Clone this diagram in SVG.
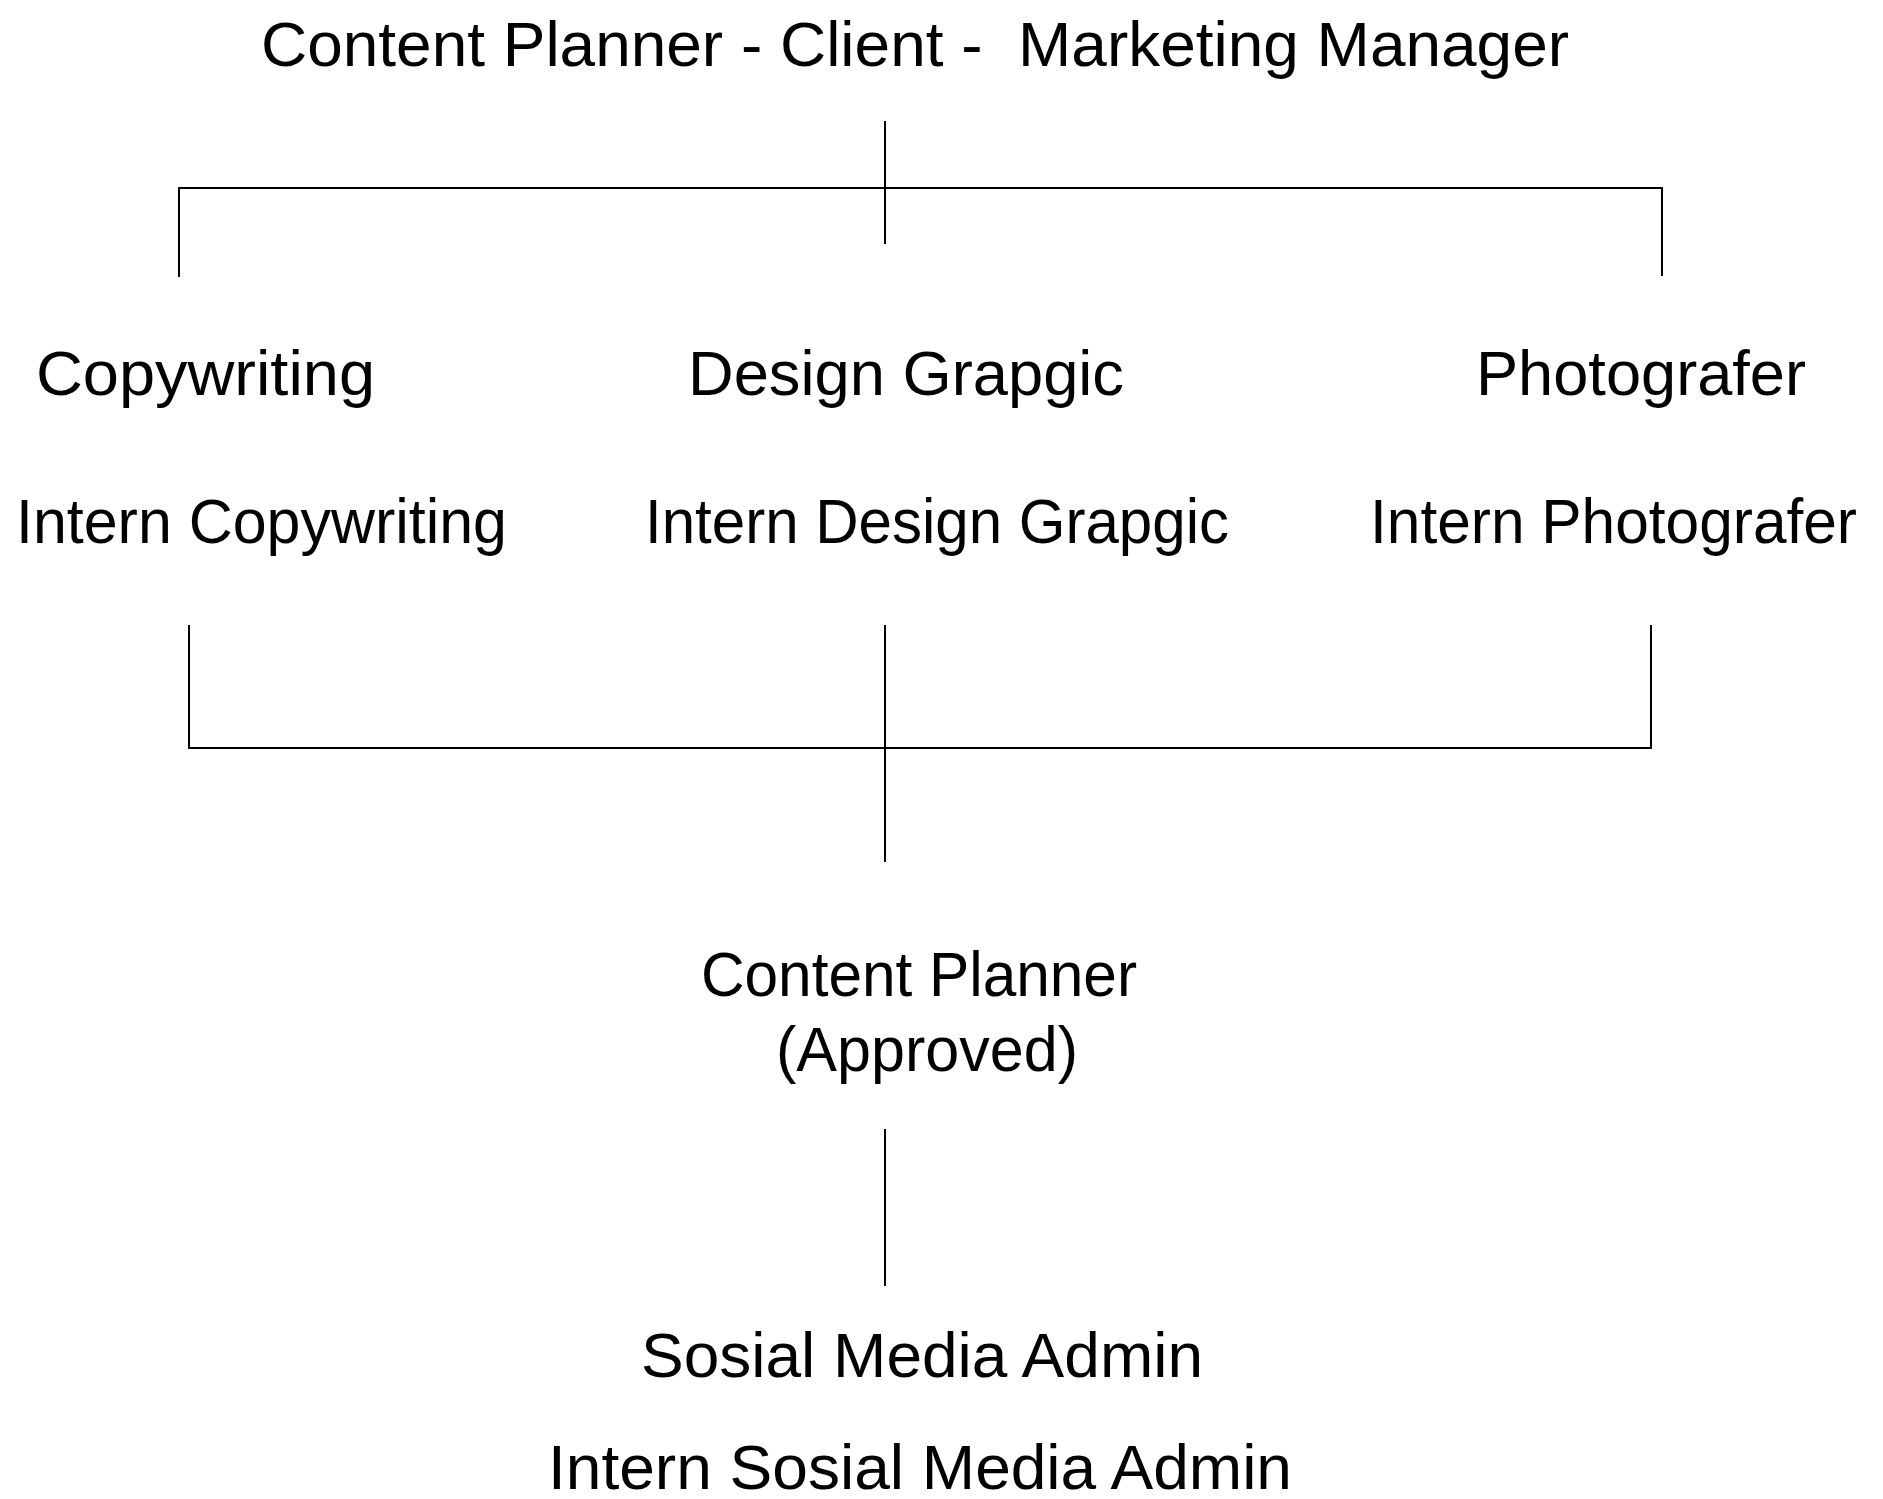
<svg xmlns="http://www.w3.org/2000/svg" width="1883" height="1499" viewBox="0 0 1883 1499">
<style>
  .t { font-family: "Liberation Sans", Arial, sans-serif; font-size: 63px; fill: #000; text-anchor: middle; }
  .c { stroke: #000; stroke-width: 2; fill: none; }
</style>
<rect width="1883" height="1499" fill="#fff"/>
<g id="connectors">
  <line class="c" x1="885" y1="121" x2="885" y2="244"/>
  <path class="c" d="M179 277 V188 H1662 V276"/>
  <path class="c" d="M189 625 V748 H1651 V625"/>
  <line class="c" x1="885" y1="625" x2="885" y2="862"/>
  <line class="c" x1="885" y1="1129" x2="885" y2="1286"/>
</g>
<g id="node-top">
  <text class="t" x="915" y="66" textLength="1308" lengthAdjust="spacingAndGlyphs" style="white-space:pre">Content Planner - Client -  Marketing Manager</text>
</g>
<g id="node-copywriting">
  <text class="t" x="205.5" y="395" textLength="339" lengthAdjust="spacingAndGlyphs">Copywriting</text>
  <text class="t" x="261.5" y="543" textLength="491" lengthAdjust="spacingAndGlyphs">Intern Copywriting</text>
</g>
<g id="node-design">
  <text class="t" x="906" y="395" textLength="436" lengthAdjust="spacingAndGlyphs">Design Grapgic</text>
  <text class="t" x="937" y="543" textLength="584" lengthAdjust="spacingAndGlyphs">Intern Design Grapgic</text>
</g>
<g id="node-photo">
  <text class="t" x="1641" y="395" textLength="330" lengthAdjust="spacingAndGlyphs">Photografer</text>
  <text class="t" x="1613.5" y="543" textLength="487" lengthAdjust="spacingAndGlyphs">Intern Photografer</text>
</g>
<g id="node-content-planner">
  <text class="t" x="919" y="996" textLength="436" lengthAdjust="spacingAndGlyphs">Content Planner</text>
  <text class="t" x="927" y="1071" textLength="302" lengthAdjust="spacingAndGlyphs">(Approved)</text>
</g>
<g id="node-social">
  <text class="t" x="922" y="1377" textLength="562" lengthAdjust="spacingAndGlyphs">Sosial Media Admin</text>
  <text class="t" x="920" y="1489" textLength="744" lengthAdjust="spacingAndGlyphs">Intern Sosial Media Admin</text>
</g>
</svg>
